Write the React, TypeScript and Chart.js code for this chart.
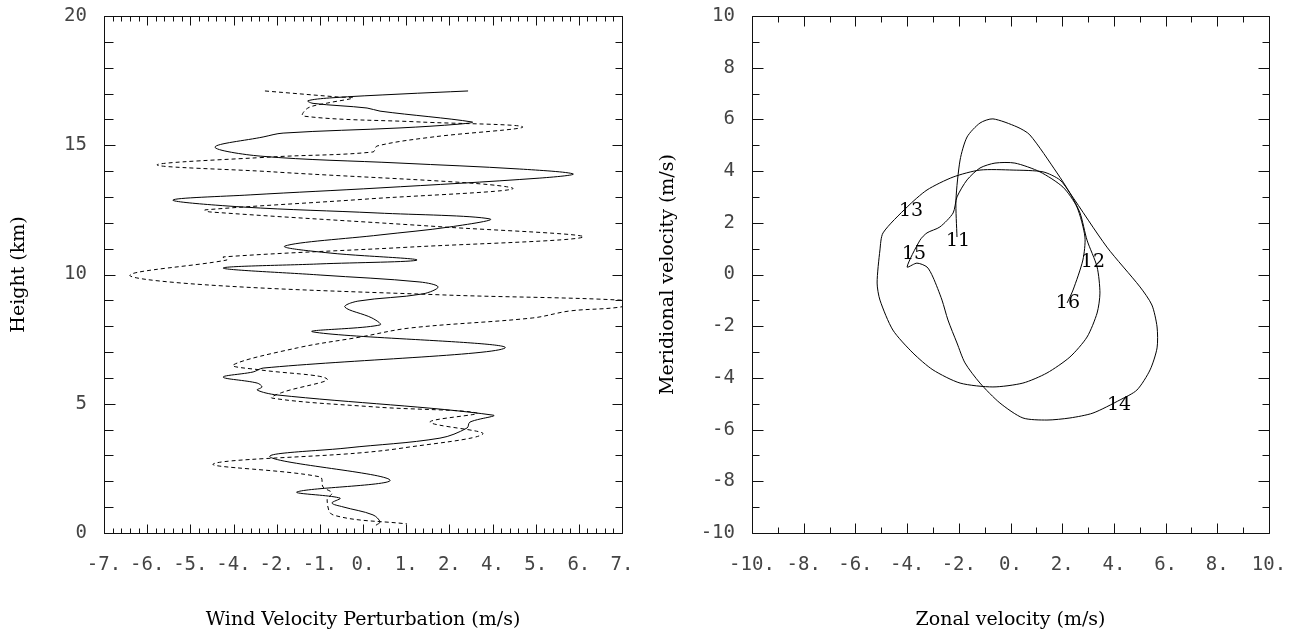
import React, { useEffect, useRef } from 'react';
import { Chart, registerables } from 'chart.js';

Chart.register(...registerables);

// ---------- Left panel: wind velocity perturbation profiles ----------
const solidU = [2.84, 1.0, -0.9, -1.49, -1.35, 0.11, 0.46, 2.95, 2.62, 1.0, -2.16, -2.7, -4.0, -2.78, 1.0, 4.24, 5.68, 4.78, 0.46, -3.05, -5.14, -3.24, 0.38, 3.43, 2.35, 0.46, -2.11, -0.89, 1.46, -1.16, -3.78, -1.16, 1.54, 2.03, 1.62, -0.14, -0.49, 0.24, 0.46, -1.35, 3.84, -2.7, -2.97, -3.78, -2.86, -2.73, -2.86, -2.32, 3.51, 2.89, 2.81, 2.08, -0.43, -2.51, 0.73, -1.78, -0.62, -0.84, -0.54, 0.27, 0.46, 0.35];
const solidH = [17.1, 16.98, 16.83, 16.72, 16.62, 16.44, 16.32, 15.9, 15.82, 15.67, 15.47, 15.32, 14.93, 14.58, 14.31, 14.08, 13.89, 13.73, 13.35, 13.08, 12.88, 12.61, 12.38, 12.15, 11.84, 11.53, 11.1, 10.83, 10.56, 10.41, 10.25, 9.98, 9.71, 9.52, 9.25, 8.97, 8.74, 8.32, 8.05, 7.78, 7.16, 6.38, 6.23, 6.03, 5.8, 5.65, 5.53, 5.34, 4.56, 4.29, 4.06, 3.67, 3.29, 2.94, 2.05, 1.59, 1.35, 1.16, 1.01, 0.7, 0.43, 0.3];

const dottedU = [-2.65, -0.7, -0.27, -0.97, -1.49, -1.62, 1.54, 4.32, 1.89, 0.38, 0.27, -2.43, -5.57, -2.43, 4.03, 0.11, -4.27, -4.14, 2.16, 5.95, 1.27, -3.78, -3.68, -6.3, -4.14, 2.16, 7.4, 6.95, 5.59, 4.59, 1.27, -0.08, -1.78, -3.51, -2.78, -0.97, -2.16, -2.46, 0.38, 3.08, 1.81, 3.24, 1.08, -0.16, -4.05, -1.16, -1.08, -0.84, -0.97, -0.81, 1.19];
const dottedH = [17.1, 16.87, 16.83, 16.63, 16.44, 16.13, 15.9, 15.71, 15.32, 14.97, 14.74, 14.55, 14.24, 13.97, 13.35, 12.92, 12.5, 12.42, 11.84, 11.45, 11.06, 10.68, 10.56, 9.98, 9.59, 9.21, 8.97, 8.74, 8.59, 8.32, 7.93, 7.58, 7.16, 6.5, 6.31, 5.96, 5.45, 5.22, 4.87, 4.64, 4.29, 3.83, 3.29, 3.09, 2.67, 2.17, 1.78, 1.55, 1.28, 0.7, 0.35];

const leftXTickLabels = ['-7.', '-6.', '-5.', '-4.', '-2.', '-1.', '0.', '1.', '2.', '4.', '5.', '6.', '7.'];
const leftYTickValues = [0, 5, 10, 15, 20];
const leftYTickLabels = ['0', '5', '10', '15', '20'];

// ---------- Right panel: hodograph ----------
const hodoU = [-2.07, -2.11, -1.95, -1.68, -1.18, -0.68, 0.25, 0.75, 1.8, 2.3, 2.69, 2.96, 3.35, 3.46, 3.35, 2.96, 2.3, 1.41, 0.48, -0.68, -1.95, -3.0, -3.77, -4.55, -5.05, -5.16, -5.05, -4.93, -4.0, -3.23, -2.22, -1.18, 0.1, 1.26, 1.91, 2.3, 3.73, 5.01, 5.47, 5.67, 5.67, 5.4, 4.89, 4.24, 3.19, 2.3, 1.41, 0.48, -0.41, -1.18, -1.76, -2.07, -2.42, -2.65, -3.0, -3.23, -3.62, -4.0, -3.5, -3.23, -2.73, -2.22, -2.07, -1.68, -1.18, -0.6, 0.17, 1.14, 2.03, 2.57, 2.88, 2.8, 2.42, 2.19];
const hodoV = [1.45, 2.88, 4.43, 5.32, 5.86, 6.02, 5.71, 5.4, 3.93, 3.15, 2.38, 1.33, 0.29, -0.72, -1.49, -2.42, -3.19, -3.81, -4.2, -4.35, -4.2, -3.69, -3.04, -2.15, -0.99, -0.33, 0.95, 1.61, 2.61, 3.27, 3.77, 4.04, 4.04, 3.97, 3.66, 3.15, 1.06, -0.48, -1.18, -2.03, -2.84, -3.69, -4.47, -4.85, -5.36, -5.55, -5.63, -5.55, -4.97, -4.2, -3.42, -2.65, -1.76, -0.99, -0.1, 0.29, 0.44, 0.29, 1.33, 1.61, 1.84, 2.38, 3.0, 3.66, 4.12, 4.31, 4.31, 3.97, 3.38, 2.61, 1.45, 0.56, -0.6, -1.1];

const hodoLabelText = ['11', '12', '13', '14', '15', '16'];
const hodoLabelU = [-2.03, 3.19, -3.85, 4.2, -3.73, 2.22];
const hodoLabelV = [1.3, 0.48, 2.46, -5.05, 0.79, -1.1];

const rightXTickValues = [-10, -8, -6, -4, -2, 0, 2, 4, 6, 8, 10];
const rightXTickLabels = ['-10.', '-8.', '-6.', '-4.', '-2.', '0.', '2.', '4.', '6.', '8.', '10.'];
const rightYTickValues = [-10, -8, -6, -4, -2, 0, 2, 4, 6, 8, 10];
const rightYTickLabels = ['-10', '-8', '-6', '-4', '-2', '0', '2', '4', '6', '8', '10'];

const TICK_FONT = 'DejaVu Sans Mono';
const TITLE_FONT = 'DejaVu Serif';

function range(a: number, b: number, step: number): number[] {
  const out: number[] = [];
  for (let i = 0; a + i * step <= b + 1e-9; i++) out.push(a + i * step);
  return out;
}

type FrameCfg = {
  xMajor: number[]; xMinor: number[]; yMajor: number[]; yMinor: number[];
  xMajorLen: number; xMinorLen: number; yMajorLenL: number; yMinorLenL: number; yMajorLenR: number; yMinorLenR: number;
};

function makeFramePlugin(cfg: FrameCfg) {
  return {
    id: 'frameTicks',
    afterDatasetsDraw(chart: any) {
      const { ctx, chartArea } = chart;
      const xs = chart.scales.x;
      const ys = chart.scales.y;
      const L = Math.round(chartArea.left) + 0.5;
      const R = Math.round(chartArea.right) + 0.5;
      const T = Math.round(chartArea.top) + 0.5;
      const B = Math.round(chartArea.bottom) + 0.5;
      ctx.save();
      ctx.strokeStyle = '#111';
      ctx.lineWidth = 1;
      ctx.beginPath();
      ctx.rect(L, T, R - L, B - T);
      const vt = (v: number, len: number) => {
        const p = Math.round(xs.getPixelForValue(v)) + 0.5;
        ctx.moveTo(p, B); ctx.lineTo(p, B - len);
        ctx.moveTo(p, T); ctx.lineTo(p, T + len);
      };
      const ht = (v: number, lenL: number, lenR: number) => {
        const p = Math.round(ys.getPixelForValue(v)) + 0.5;
        ctx.moveTo(L, p); ctx.lineTo(L + lenL, p);
        ctx.moveTo(R, p); ctx.lineTo(R - lenR, p);
      };
      cfg.xMinor.forEach((v) => vt(v, cfg.xMinorLen));
      cfg.xMajor.forEach((v) => vt(v, cfg.xMajorLen));
      cfg.yMinor.forEach((v) => ht(v, cfg.yMinorLenL, cfg.yMinorLenR));
      cfg.yMajor.forEach((v) => ht(v, cfg.yMajorLenL, cfg.yMajorLenR));
      ctx.stroke();
      ctx.restore();
    },
  };
}

function makeLabelPlugin(texts: string[], us: number[], vs: number[]) {
  return {
    id: 'hodoLabels',
    afterDatasetsDraw(chart: any) {
      const { ctx } = chart;
      const xs = chart.scales.x;
      const ys = chart.scales.y;
      ctx.save();
      ctx.fillStyle = '#000';
      ctx.font = `19px "${TITLE_FONT}"`;
      ctx.textAlign = 'center';
      ctx.textBaseline = 'middle';
      texts.forEach((t, i) => {
        ctx.fillText(t, xs.getPixelForValue(us[i]), ys.getPixelForValue(vs[i]));
      });
      ctx.restore();
    },
  };
}

const tickFont = { family: TICK_FONT, size: 19 };
const titleFont = { family: TITLE_FONT, size: 19 };

function fixX(h: number) {
  return (s: any) => { s.height = h; s.paddingLeft = 0; s.paddingRight = 0; s.paddingTop = 0; s.paddingBottom = 0; };
}
function fixY(w: number) {
  return (s: any) => { s.width = w; s.paddingTop = 0; s.paddingBottom = 0; s.paddingLeft = 0; s.paddingRight = 0; };
}

export default function App() {
  const leftRef = useRef<HTMLCanvasElement | null>(null);
  const rightRef = useRef<HTMLCanvasElement | null>(null);

  useEffect(() => {
    const leftMajor = leftXTickLabels.map((_, i) => -7 + (i * 14) / (leftXTickLabels.length - 1));
    const leftMinor: number[] = [];
    for (let i = 0; i < leftMajor.length - 1; i++) {
      for (let k = 1; k < 5; k++) leftMinor.push(leftMajor[i] + ((leftMajor[i + 1] - leftMajor[i]) * k) / 5);
    }
    const leftChart = new Chart(leftRef.current as HTMLCanvasElement, {
      type: 'line',
      data: {
        datasets: [
          {
            data: solidU.map((u, i) => ({ x: u, y: solidH[i] })),
            borderColor: '#000', borderWidth: 1, pointRadius: 0, tension: 0.35, fill: false,
          },
          {
            data: dottedU.map((u, i) => ({ x: u, y: dottedH[i] })),
            borderColor: '#000', borderWidth: 1, borderDash: [4, 3], pointRadius: 0, tension: 0.35, fill: false,
          },
        ],
      },
      options: {
        animation: false,
        responsive: false,
        layout: { padding: { left: 0, top: 16, right: 28, bottom: 0 } },
        plugins: { legend: { display: false }, tooltip: { enabled: false } },
        scales: {
          x: {
            type: 'linear', min: -7, max: 7, position: 'bottom',
            afterBuildTicks: (s: any) => { s.ticks = leftMajor.map((v) => ({ value: v })); },
            afterFit: fixX(101),
            grid: { display: false, drawTicks: false },
            border: { display: false },
            ticks: {
              autoSkip: false, maxRotation: 0, minRotation: 0, padding: 21, color: '#444', font: tickFont,
              callback: (_v: any, i: number) => leftXTickLabels[i],
            },
            title: { display: true, text: 'Wind Velocity Perturbation (m/s)', color: '#000', font: titleFont, padding: { top: 0, bottom: 3 } },
          },
          y: {
            type: 'linear', min: 0, max: 20,
            afterBuildTicks: (s: any) => { s.ticks = leftYTickValues.map((v) => ({ value: v })); },
            afterFit: fixY(104),
            grid: { display: false, drawTicks: false },
            border: { display: false },
            ticks: { autoSkip: false, padding: 17, color: '#444', font: tickFont, callback: (_v: any, i: number) => leftYTickLabels[i] },
            title: { display: true, text: 'Height (km)', color: '#000', font: titleFont, padding: { top: 8, bottom: 0 } },
          },
        },
      } as any,
      plugins: [
        makeFramePlugin({
          xMajor: leftMajor, xMinor: leftMinor,
          yMajor: leftYTickValues, yMinor: range(0, 20, 1),
          xMajorLen: 9, xMinorLen: 5, yMajorLenL: 11, yMinorLenL: 9, yMajorLenR: 10, yMinorLenR: 7,
        }),
      ],
    });

    const rightChart = new Chart(rightRef.current as HTMLCanvasElement, {
      type: 'line',
      data: {
        datasets: [
          {
            data: hodoU.map((u, i) => ({ x: u, y: hodoV[i] })),
            borderColor: '#000', borderWidth: 1, pointRadius: 0, tension: 0.25, fill: false,
          },
        ],
      },
      options: {
        animation: false,
        responsive: false,
        layout: { padding: { left: 0, top: 16, right: 34, bottom: 0 } },
        plugins: { legend: { display: false }, tooltip: { enabled: false } },
        scales: {
          x: {
            type: 'linear', min: -10, max: 10, position: 'bottom',
            afterBuildTicks: (s: any) => { s.ticks = rightXTickValues.map((v) => ({ value: v })); },
            afterFit: fixX(101),
            grid: { display: false, drawTicks: false },
            border: { display: false },
            ticks: {
              autoSkip: false, maxRotation: 0, minRotation: 0, padding: 21, color: '#444', font: tickFont,
              callback: (_v: any, i: number) => rightXTickLabels[i],
            },
            title: { display: true, text: 'Zonal velocity (m/s)', color: '#000', font: titleFont, padding: { top: 0, bottom: 3 } },
          },
          y: {
            type: 'linear', min: -10, max: 10,
            afterBuildTicks: (s: any) => { s.ticks = rightYTickValues.map((v) => ({ value: v })); },
            afterFit: fixY(102),
            grid: { display: false, drawTicks: false },
            border: { display: false },
            ticks: { autoSkip: false, padding: 17, color: '#444', font: tickFont, callback: (_v: any, i: number) => rightYTickLabels[i] },
            title: { display: true, text: 'Meridional velocity (m/s)', color: '#000', font: titleFont, padding: { top: 7, bottom: 0 } },
          },
        },
      } as any,
      plugins: [
        makeFramePlugin({
          xMajor: rightXTickValues, xMinor: range(-9, 9, 2),
          yMajor: rightYTickValues, yMinor: range(-9, 9, 2),
          xMajorLen: 10, xMinorLen: 6, yMajorLenL: 11, yMinorLenL: 7, yMajorLenR: 11, yMinorLenR: 7,
        }),
        makeLabelPlugin(hodoLabelText, hodoLabelU, hodoLabelV),
      ],
    });

    return () => {
      leftChart.destroy();
      rightChart.destroy();
    };
  }, []);

  return (
    <div style={{ position: 'absolute', left: 0, top: 0, width: 1303, height: 634, background: '#fff' }}>
      <canvas ref={leftRef} width={650} height={634} style={{ position: 'absolute', left: 0, top: 0 }} />
      <canvas ref={rightRef} width={653} height={634} style={{ position: 'absolute', left: 650, top: 0 }} />
    </div>
  );
}
